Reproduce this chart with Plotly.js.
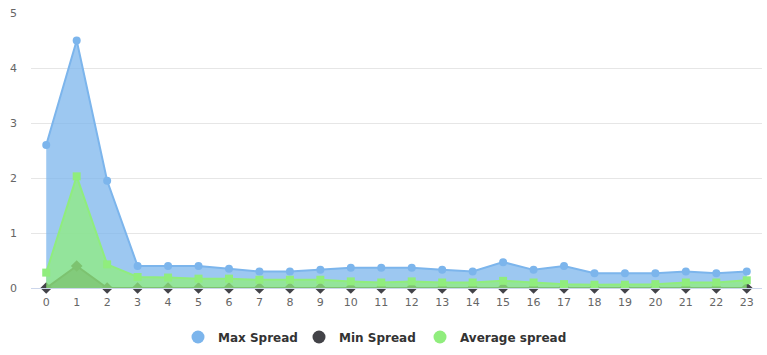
<!DOCTYPE html>
<html><head><meta charset="utf-8">
<script src="https://cdn.plot.ly/plotly-3.0.1.min.js"></script>
<style>html,body{margin:0;padding:0;background:#fff}#chart{width:767px;height:355px}</style>
</head><body><div id="chart"></div>
<script>
var categories = [0,1,2,3,4,5,6,7,8,9,10,11,12,13,14,15,16,17,18,19,20,21,22,23];
var maxSpread = [2.6,4.5,1.95,0.4,0.4,0.4,0.35,0.3,0.3,0.33,0.37,0.37,0.37,0.33,0.3,0.47,0.33,0.4,0.27,0.27,0.27,0.3,0.27,0.3];
var minSpread = [0,0.4,0,0,0,0,0,0,0,0,0,0,0,0,0,0,0,0,0,0,0,0,0,0];
var avgSpread = [0.28,2.03,0.43,0.2,0.19,0.17,0.17,0.15,0.15,0.15,0.12,0.1,0.12,0.1,0.1,0.13,0.1,0.07,0.06,0.06,0.07,0.1,0.1,0.14];
var seriesNames = ['Max Spread','Min Spread','Average spread'];
var colors = ['#7cb5ec','#434348','#90ed7d'];
var fills = ['rgba(124,181,236,0.75)','rgba(67,67,72,0.75)','rgba(144,237,125,0.75)'];

function area(y, i, sym, size){
  return {x: categories, y: y, type:'scatter', mode:'lines+markers', fill:'tozeroy',
    fillcolor: fills[i], line:{color:colors[i], width:2}, marker:{color:colors[i], symbol:sym, size:size},
    cliponaxis:false, showlegend:false, hoverinfo:'skip', name: seriesNames[i]};
}
var traces = [
  area(maxSpread,0,'circle',8),
  area(minSpread,1,'diamond',9),
  area(avgSpread,2,'square',8)
];
for (var i=0;i<3;i++){
  var t = {x:[null], y:[null], type:'scatter', mode:'markers', name: seriesNames[i],
    marker:{color:colors[i], symbol:'circle', size:13}, showlegend:true};
  if (i < 2) t.legendwidth = 76;
  traces.push(t);
}
var layout = {
  width:767, height:355,
  margin:{l:31, r:5, t:13, b:66},
  paper_bgcolor:'#fff', plot_bgcolor:'#fff',
  font:{family:'DejaVu Sans, Verdana, sans-serif', size:11, color:'#666666'},
  xaxis:{range:[-0.5,23.5], tickmode:'array', tickvals:categories, ticktext:categories.map(String),
    showgrid:false, zeroline:false, showline:true, linecolor:'#ccd6eb', linewidth:1, ticks:'', fixedrange:true,
    ticklabelstandoff:4, tickfont:{size:11, color:'#666666'}},
  yaxis:{range:[0,5], dtick:1, showgrid:true, gridcolor:'#e6e6e6', zeroline:false, showline:false, ticks:'',
    ticklabelstandoff:13, tickfont:{size:11, color:'#666666'}, fixedrange:true},
  legend:{orientation:'h', x:(178-31)/731, xanchor:'left', y:-0.174, yanchor:'middle',
    font:{size:12, color:'#333333', family:'DejaVu Sans, Verdana, sans-serif', weight:'bold'}, itemwidth:30, tracegroupgap:0},
  showlegend:true
};
Plotly.newPlot('chart', traces, layout, {displayModeBar:false, staticPlot:true});
</script></body></html>
